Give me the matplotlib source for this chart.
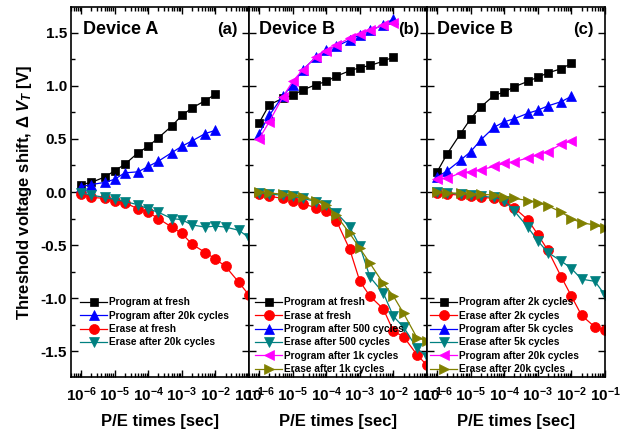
import numpy as np
import matplotlib
matplotlib.use("Agg")
import matplotlib.pyplot as plt
from matplotlib.ticker import LogLocator, MultipleLocator, NullFormatter, LogFormatterSciNotation

plt.rcParams['font.family'] = ['Liberation Sans', 'DejaVu Sans']
plt.rcParams['font.weight'] = 'bold'
plt.rcParams['axes.unicode_minus'] = False
plt.rcParams['mathtext.fontset'] = 'custom'
plt.rcParams['mathtext.rm'] = 'Liberation Sans:bold'
plt.rcParams['mathtext.it'] = 'Liberation Sans:bold:italic'
plt.rcParams['mathtext.bf'] = 'Liberation Sans:bold'
plt.rcParams['mathtext.default'] = 'rm'

# ---- data ----
t_prog = [1e-6, 2e-6, 5e-6, 1e-5, 2e-5, 5e-5, 1e-4, 2e-4, 5e-4, 1e-3, 2e-3, 5e-3, 1e-2]
t_erase = [1e-6, 2e-6, 5e-6, 1e-5, 2e-5, 5e-5, 1e-4, 2e-4, 5e-4, 1e-3, 2e-3, 5e-3, 1e-2, 2e-2, 5e-2, 1e-1]

# Panel (a) Device A
a_prog_fresh = [0.07, 0.09, 0.14, 0.20, 0.26, 0.37, 0.43, 0.51, 0.62, 0.72, 0.79, 0.86, 0.92]
a_prog_20k = [0.05, 0.07, 0.09, 0.12, 0.18, 0.19, 0.24, 0.29, 0.37, 0.43, 0.48, 0.55, 0.58]
a_erase_fresh = [-0.02, -0.05, -0.06, -0.08, -0.10, -0.16, -0.19, -0.25, -0.33, -0.39, -0.49, -0.57, -0.63, -0.70, -0.85, -0.97]
a_erase_20k = [-0.01, -0.03, -0.05, -0.07, -0.09, -0.12, -0.16, -0.19, -0.25, -0.26, -0.31, -0.33, -0.32, -0.33, -0.36, -0.43]

# Panel (b) Device B
b_prog_fresh = [0.65, 0.82, 0.88, 0.91, 0.96, 1.01, 1.04, 1.09, 1.14, 1.17, 1.19, 1.23, 1.27]
b_erase_fresh = [-0.02, -0.04, -0.06, -0.08, -0.11, -0.15, -0.175, -0.27, -0.54, -0.84, -0.98, -1.10, -1.31, -1.36, -1.53, -1.63]
b_prog_500 = [0.55, 0.72, 0.90, 1.01, 1.15, 1.27, 1.34, 1.37, 1.43, 1.48, 1.52, 1.57, 1.63]
b_erase_500 = [-0.01, -0.02, -0.03, -0.04, -0.06, -0.09, -0.12, -0.195, -0.33, -0.51, -0.80, -0.95, -1.17, -1.27, -1.47, -1.55]
b_prog_1k = [0.50, 0.66, 0.89, 1.04, 1.15, 1.27, 1.33, 1.38, 1.45, 1.49, 1.52, 1.57, 1.59]
b_erase_1k = [0.0, -0.01, -0.02, -0.03, -0.05, -0.08, -0.12, -0.22, -0.39, -0.53, -0.67, -0.86, -0.98, -1.14, -1.37, -1.40]

# Panel (c) Device B
c_prog_2k = [0.19, 0.36, 0.55, 0.69, 0.80, 0.91, 0.94, 0.99, 1.04, 1.08, 1.12, 1.16, 1.21]
c_erase_2k = [-0.01, -0.02, -0.03, -0.04, -0.05, -0.06, -0.08, -0.15, -0.26, -0.40, -0.55, -0.80, -0.98, -1.16, -1.27, -1.30]
c_prog_5k = [0.14, 0.20, 0.30, 0.38, 0.49, 0.61, 0.66, 0.69, 0.74, 0.77, 0.81, 0.85, 0.90]
c_erase_5k = [0.0, -0.01, -0.02, -0.03, -0.04, -0.05, -0.08, -0.18, -0.33, -0.46, -0.57, -0.65, -0.72, -0.82, -0.84, -0.97]
c_prog_20k = [0.12, 0.13, 0.18, 0.19, 0.21, 0.24, 0.27, 0.285, 0.32, 0.35, 0.38, 0.45, 0.48]
c_erase_20k = [0.0, -0.01, -0.01, -0.02, -0.02, -0.03, -0.05, -0.06, -0.08, -0.10, -0.13, -0.19, -0.25, -0.29, -0.31, -0.34]

panel_titles = ["Device A", "Device B", "Device B"]
panel_tags = ["(a)", "(b)", "(c)"]

BLACK, RED, BLUE, TEAL, MAG, OLIVE = '#000000', '#ff0000', '#0000ff', '#008080', '#ff00ff', '#808000'

panels = [
    [(t_prog, a_prog_fresh, BLACK, 's', "Program at fresh"),
     (t_prog, a_prog_20k, BLUE, '^', "Program after 20k cycles"),
     (t_erase, a_erase_fresh, RED, 'o', "Erase at fresh"),
     (t_erase, a_erase_20k, TEAL, 'v', "Erase after 20k cycles")],
    [(t_prog, b_prog_fresh, BLACK, 's', "Program at fresh"),
     (t_erase, b_erase_fresh, RED, 'o', "Erase at fresh"),
     (t_prog, b_prog_500, BLUE, '^', "Program after 500 cycles"),
     (t_erase, b_erase_500, TEAL, 'v', "Erase after 500 cycles"),
     (t_prog, b_prog_1k, MAG, '<', "Program after 1k cycles"),
     (t_erase, b_erase_1k, OLIVE, '>', "Erase after 1k cycles")],
    [(t_prog, c_prog_2k, BLACK, 's', "Program after 2k cycles"),
     (t_erase, c_erase_2k, RED, 'o', "Erase after 2k cycles"),
     (t_prog, c_prog_5k, BLUE, '^', "Program after 5k cycles"),
     (t_erase, c_erase_5k, TEAL, 'v', "Erase after 5k cycles"),
     (t_prog, c_prog_20k, MAG, '<', "Program after 20k cycles"),
     (t_erase, c_erase_20k, OLIVE, '>', "Erase after 20k cycles")],
]

msize = {'s': 6.4, 'o': 7.2, '^': 7.8, 'v': 7.8, '<': 7.8, '>': 7.8}

fig = plt.figure(figsize=(6.26, 4.32), dpi=100)
axes = fig.subplots(1, 3, sharey=True)
fig.subplots_adjust(left=0.1134, right=0.9665, bottom=0.1273, top=0.9838, wspace=0)

title_x = [0.067, 0.058, 0.058]
tag_x = [0.938, 0.96, 0.934]
leg_x = [0.05, 0.034, 0.017]

for i, ax in enumerate(axes):
    for (tx, ys, col, mk, lab) in panels[i]:
        ax.plot(tx, ys, color=col, marker=mk, markersize=msize[mk], markeredgewidth=0.5,
                markeredgecolor=col, linewidth=0.9, label=lab)
    ax.set_xscale('log')
    ax.set_xlim(5e-7, 1e-1)
    ax.set_ylim(-1.74, 1.74)
    ax.xaxis.set_major_locator(LogLocator(base=10, numticks=20))
    ax.xaxis.set_minor_locator(LogLocator(base=10, subs=np.arange(2, 10), numticks=20))
    ax.xaxis.set_minor_formatter(NullFormatter())
    ax.xaxis.set_major_formatter(LogFormatterSciNotation())
    ax.yaxis.set_major_locator(MultipleLocator(0.5))
    ax.yaxis.set_minor_locator(MultipleLocator(0.25))
    ax.yaxis.set_major_formatter(matplotlib.ticker.FormatStrFormatter('%.1f'))
    ax.tick_params(which='both', direction='in', top=True, right=True, width=1.0)
    ax.tick_params(which='major', length=5, labelsize=11, pad=3)
    ax.tick_params(which='minor', length=3)
    ax.tick_params(axis='x', which='major', pad=6, labelsize=11)
    if i > 0:
        ax.tick_params(axis='y', which='both', labelleft=False)
    for sp in ax.spines.values():
        sp.set_linewidth(1.2)
    ax.text(title_x[i], 0.9405, panel_titles[i], transform=ax.transAxes, fontsize=13,
            fontweight='bold', ha='left', va='center')
    ax.text(tag_x[i], 0.9405, panel_tags[i], transform=ax.transAxes, fontsize=12,
            fontweight='bold', ha='right', va='center')
    ax.set_xlabel("P/E times [sec]", fontsize=12, fontweight='bold', labelpad=7)
    ax.legend(loc='upper left', bbox_to_anchor=(leg_x[i], 0.215), frameon=False,
              fontsize=7.3, handlelength=2.7, handletextpad=0.2, labelspacing=0.33,
              borderpad=0, borderaxespad=0, numpoints=1, markerscale=1.0)

fig.text(25 / 626, 0.5556, r'Threshold voltage shift, $\Delta$ $\mathit{V_T}$ [V]',
         rotation=90, ha='center', va='center', fontsize=12, fontweight='bold')

fig.savefig('out.png', dpi=100)
